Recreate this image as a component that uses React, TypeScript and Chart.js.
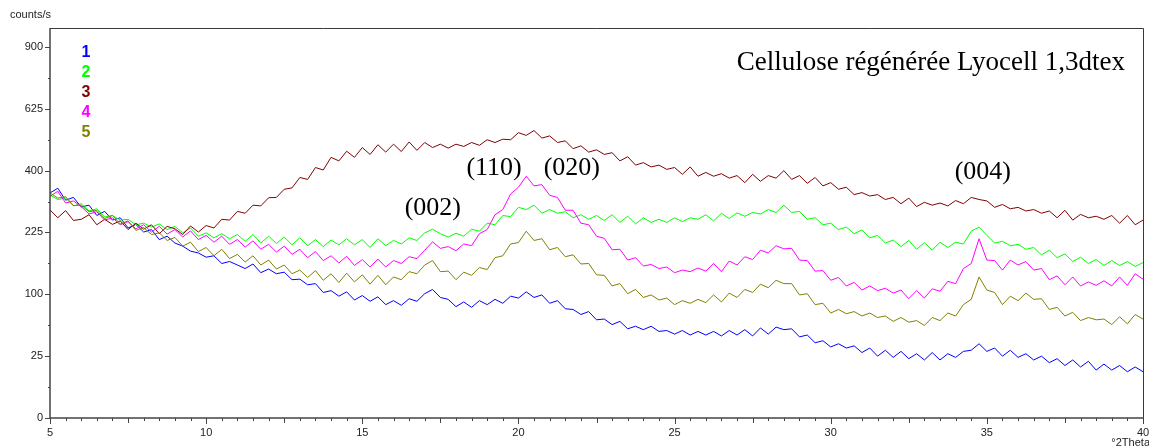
import React, { useEffect, useRef } from "react";
import { Chart, registerables, LinearScale } from "chart.js";

Chart.register(...registerables);

class SqrtScale extends LinearScale {
  static id = "sqrt";
  static defaults = (LinearScale as any).defaults;
  getPixelForValue(value: any) {
    if (value == null || isNaN(value)) return NaN;
    const s0 = Math.sqrt(Math.max(0, (this as any).min));
    const s1 = Math.sqrt((this as any).max);
    return (this as any).getPixelForDecimal((Math.sqrt(Math.max(0, value)) - s0) / (s1 - s0));
  }
  getValueForPixel(pixel: number) {
    const s0 = Math.sqrt(Math.max(0, (this as any).min));
    const s1 = Math.sqrt((this as any).max);
    const s = s0 + (this as any).getDecimalForPixel(pixel) * (s1 - s0);
    return s * s;
  }
}
Chart.register(SqrtScale as any);

// 2-theta sampling (degrees), step 0.25 from 5 to 40
const theta: number[] = Array.from({ length: 141 }, (_, i) => 5 + i * 0.25);

const series1: number[] = [
  331, 345, 310, 318, 291, 296, 268, 279, 256, 262, 236, 245, 226, 232, 208, 216,
  200, 193, 182, 178, 169, 172, 156, 160, 153, 146, 155, 138, 145, 136, 139, 125,
  126, 116, 118, 103, 106, 97, 104, 91, 98, 89, 96, 84, 90, 83, 93, 89,
  101, 108, 95, 92, 81, 88, 80, 90, 84, 92, 86, 97, 94, 104, 95, 99,
  86, 90, 78, 77, 70, 74, 63, 64, 57, 61, 52, 55, 51, 55, 49, 50,
  46, 50, 45, 49, 45, 49, 44, 50, 45, 51, 44, 53, 46, 54, 51, 52,
  43, 45, 37, 39, 33, 36, 32, 34, 28, 32, 25, 30, 24, 29, 23, 27,
  22, 28, 22, 27, 24, 29, 30, 36, 29, 32, 25, 30, 24, 27, 22, 25,
  20, 23, 18, 22, 17, 21, 15, 19, 15, 18, 14, 17, 14,
];

const series2: number[] = [
  325, 312, 316, 294, 300, 280, 286, 264, 268, 256, 258, 244, 248, 238, 246, 232,
  240, 224, 236, 216, 224, 212, 222, 210, 220, 204, 220, 200, 216, 199, 214, 196,
  212, 194, 208, 192, 207, 196, 210, 196, 208, 190, 210, 194, 206, 198, 212, 206,
  224, 233, 222, 214, 223, 216, 233, 228, 248, 244, 268, 265, 290, 284, 296, 274,
  284, 274, 278, 262, 270, 258, 268, 255, 270, 250, 266, 246, 262, 250, 258, 250,
  262, 252, 262, 258, 270, 254, 274, 260, 275, 266, 276, 272, 284, 276, 296, 276,
  279, 258, 262, 244, 248, 232, 238, 222, 231, 212, 218, 200, 207, 192, 206, 186,
  201, 184, 202, 190, 202, 198, 228, 238, 218, 200, 204, 194, 197, 186, 190, 174,
  184, 168, 176, 160, 169, 156, 164, 152, 162, 152, 160, 150, 158,
];

const series3: number[] = [
  283, 262, 281, 255, 258, 270, 244, 258, 245, 254, 232, 248, 233, 244, 222, 240,
  234, 220, 241, 226, 242, 236, 258, 256, 279, 274, 296, 294, 317, 318, 342, 346,
  378, 372, 410, 402, 444, 432, 465, 444, 478, 454, 488, 462, 490, 464, 498, 468,
  496, 478, 490, 476, 490, 482, 496, 486, 506, 496, 508, 506, 532, 522, 540, 512,
  520, 496, 502, 474, 484, 462, 470, 454, 460, 432, 446, 418, 426, 412, 418, 404,
  410, 388, 412, 382, 394, 382, 390, 376, 384, 362, 388, 366, 384, 376, 400, 372,
  384, 360, 378, 352, 362, 342, 348, 326, 332, 322, 326, 312, 318, 300, 316, 292,
  304, 296, 302, 294, 309, 300, 318, 312, 308, 290, 298, 286, 290, 280, 284, 274,
  280, 262, 282, 256, 271, 262, 266, 258, 268, 248, 268, 244, 256,
];

const series4: number[] = [
  321, 336, 302, 308, 292, 272, 278, 256, 262, 244, 252, 234, 244, 226, 240, 221,
  232, 214, 229, 208, 218, 202, 216, 197, 208, 191, 205, 186, 197, 180, 193, 175,
  186, 168, 181, 162, 172, 157, 171, 152, 164, 149, 165, 149, 162, 156, 170, 166,
  184, 203, 188, 192, 183, 198, 194, 222, 232, 270, 284, 328, 348, 382, 352, 356,
  324, 318, 282, 282, 248, 244, 216, 211, 185, 186, 163, 168, 151, 154, 146, 149,
  138, 143, 140, 147, 141, 156, 140, 161, 153, 170, 164, 184, 178, 194, 187, 188,
  163, 162, 141, 142, 124, 129, 114, 120, 107, 114, 106, 110, 102, 107, 93, 106,
  94, 109, 105, 122, 118, 146, 156, 210, 163, 162, 143, 163, 153, 160, 143, 146,
  125, 132, 116, 130, 114, 121, 115, 123, 114, 130, 115, 136, 126,
];

const series5: number[] = [
  331, 316, 320, 295, 296, 278, 282, 260, 268, 246, 254, 230, 237, 220, 224, 206,
  213, 193, 202, 181, 190, 172, 186, 166, 175, 159, 172, 153, 163, 145, 153, 136,
  143, 129, 142, 124, 136, 120, 137, 121, 134, 117, 133, 116, 130, 125, 140, 136,
  153, 162, 140, 141, 125, 139, 133, 148, 144, 168, 172, 198, 201, 228, 206, 210,
  185, 190, 170, 174, 155, 156, 134, 133, 114, 118, 101, 108, 95, 99, 91, 94,
  84, 90, 86, 92, 87, 99, 88, 102, 95, 108, 103, 117, 111, 124, 118, 118,
  99, 101, 84, 86, 72, 77, 71, 74, 68, 72, 66, 68, 61, 66, 60, 62,
  56, 66, 62, 72, 68, 84, 92, 130, 107, 103, 84, 97, 90, 102, 92, 93,
  77, 80, 68, 73, 62, 66, 63, 64, 57, 67, 58, 70, 64,
];

const seriesLabels = ["1", "2", "3", "4", "5"];
const seriesColors = ["#0000ff", "#00ff00", "#800000", "#ff00ff", "#808000"];
const seriesData = [series1, series2, series3, series4, series5];

const xTickValues = [5, 10, 15, 20, 25, 30, 35, 40];
const yTickValues = [0, 25, 100, 225, 400, 625, 900];
const yMinorTicks = [6.25, 56.25, 156.25, 306.25, 506.25, 756.25];

const titleText = "Cellulose régénérée Lyocell 1,3dtex";
const peakLabels = ["(002)", "(110)", "(020)", "(004)"];
const peakTheta = [17.26, 19.22, 21.71, 34.87];
const peakCounts = [288, 408, 408, 396];

const SERIF = "'Liberation Serif', 'Times New Roman', serif";
const SANS = "'Liberation Sans', Arial, sans-serif";

const decorPlugin = {
  id: "decor",
  afterDraw(chart: any) {
    const { ctx, chartArea, scales } = chart;
    const { left, right, top, bottom } = chartArea;
    const x = scales.x;
    const y = scales.y;
    ctx.save();
    // frame
    ctx.strokeStyle = "#3a3a3a";
    ctx.lineWidth = 1;
    ctx.beginPath();
    ctx.moveTo(left, top + 0.5);
    ctx.lineTo(right + 0.5, top + 0.5);
    ctx.lineTo(right + 0.5, bottom);
    ctx.stroke();
    ctx.lineWidth = 1.5;
    ctx.strokeStyle = "#444";
    ctx.beginPath();
    ctx.moveTo(left, top);
    ctx.lineTo(left, bottom);
    ctx.lineTo(right + 1, bottom);
    ctx.stroke();
    // x ticks
    ctx.lineWidth = 1;
    ctx.strokeStyle = "#444";
    for (let i = 0; i <= 70; i++) {
      const t = 5 + i * 0.5;
      const px = Math.round(x.getPixelForValue(t)) + 0.5;
      const len = i % 10 === 0 ? 6 : i % 5 === 0 ? 5 : 3;
      ctx.beginPath();
      ctx.moveTo(px, bottom);
      ctx.lineTo(px, bottom + len);
      ctx.stroke();
    }
    // y ticks
    for (const v of yTickValues) {
      const py = Math.round(y.getPixelForValue(v)) + 0.5;
      ctx.beginPath();
      ctx.moveTo(left - 5, py);
      ctx.lineTo(left, py);
      ctx.stroke();
    }
    for (const v of yMinorTicks) {
      const py = Math.round(y.getPixelForValue(v)) + 0.5;
      ctx.beginPath();
      ctx.moveTo(left - 2, py);
      ctx.lineTo(left, py);
      ctx.stroke();
    }
    // legend digits
    ctx.font = `bold 16px ${SANS}`;
    ctx.textAlign = "center";
    ctx.textBaseline = "middle";
    seriesLabels.forEach((lab, i) => {
      ctx.fillStyle = seriesColors[i];
      ctx.fillText(lab, left + 36, top + 25 + i * 20);
    });
    // title
    ctx.fillStyle = "#000";
    ctx.font = `27px ${SERIF}`;
    ctx.textAlign = "right";
    ctx.fillText(titleText, right - 18, top + 35);
    // peak labels
    ctx.font = `26px ${SERIF}`;
    ctx.textAlign = "center";
    peakLabels.forEach((lab, i) => {
      ctx.fillText(lab, x.getPixelForValue(peakTheta[i]), y.getPixelForValue(peakCounts[i]));
    });
    // axis units
    ctx.fillStyle = "#222";
    ctx.font = `11px ${SANS}`;
    ctx.textAlign = "left";
    ctx.fillText("counts/s", 10, 15);
    ctx.textAlign = "right";
    ctx.textBaseline = "top";
    ctx.fillText("°2Theta", 1150, 437);
    ctx.restore();
  },
};

export default function App() {
  const ref = useRef<HTMLCanvasElement | null>(null);
  useEffect(() => {
    if (!ref.current) return;
    const chart = new Chart(ref.current, {
      type: "line",
      data: {
        datasets: seriesData.map((arr, i) => ({
          label: seriesLabels[i],
          data: arr.map((v, j) => ({ x: theta[j], y: v })),
          borderColor: seriesColors[i],
          backgroundColor: seriesColors[i],
          borderWidth: 1,
          pointRadius: 0,
          tension: 0,
          fill: false,
          order: 5 - i,
        })),
      },
      options: {
        responsive: false,
        animation: false,
        layout: { padding: { top: 28, right: 6, left: 0, bottom: 0 } },
        plugins: { legend: { display: false }, tooltip: { enabled: false } },
        scales: {
          x: {
            type: "linear",
            min: 5,
            max: 40,
            afterBuildTicks: (s: any) => {
              s.ticks = xTickValues.map((v) => ({ value: v }));
            },
            afterFit: (s: any) => {
              s.height = 29;
              s.paddingLeft = 0;
              s.paddingRight = 0;
            },
            grid: { display: false, drawTicks: false },
            border: { display: false },
            ticks: {
              padding: 8,
              maxRotation: 0,
              autoSkip: false,
              color: "#222",
              font: { family: SANS, size: 11 },
            },
          },
          y: {
            type: "sqrt" as any,
            min: 0,
            max: 994,
            afterBuildTicks: (s: any) => {
              s.ticks = yTickValues.map((v) => ({ value: v }));
            },
            afterFit: (s: any) => {
              s.width = 50;
              s.paddingTop = 0;
              s.paddingBottom = 0;
            },
            grid: { display: false, drawTicks: false },
            border: { display: false },
            ticks: {
              padding: 7,
              autoSkip: false,
              color: "#222",
              font: { family: SANS, size: 11 },
              callback: (v: any) => String(v),
            },
          },
        },
      },
      plugins: [decorPlugin],
    });
    return () => chart.destroy();
  }, []);
  return (
    <canvas
      ref={ref}
      width={1149}
      height={447}
      style={{ position: "absolute", left: 0, top: 0, background: "#fff" }}
    />
  );
}
